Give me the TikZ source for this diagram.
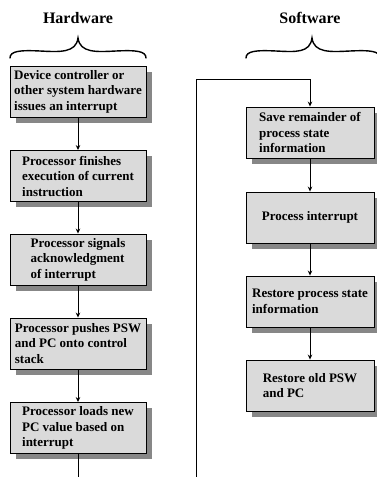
\documentclass[tikz,border=0pt]{standalone}
\usepackage{fontspec}
\setmainfont{Liberation Serif}
\usetikzlibrary{arrows.meta,shadows}

\definecolor{boxfill}{RGB}{218,218,218}
\definecolor{shadowgray}{RGB}{135,135,135}

\tikzset{
  stepbox/.style={draw=black, line width=0.9pt, fill=boxfill,
    minimum height=51pt, align=left, inner sep=3pt,
    font=\bfseries\fontsize{13}{15.5}\selectfont,
    drop shadow={shadow xshift=5.5pt, shadow yshift=-5.5pt,
                 fill=shadowgray, opacity=1}},
  hwbox/.style={stepbox, minimum width=136pt},
  swbox/.style={stepbox, minimum width=128pt},
  heading/.style={font=\bfseries\fontsize{16}{18}\selectfont},
  flow/.style={line width=0.9pt, -{Stealth[length=5pt,width=4.5pt]}},
  wire/.style={line width=0.9pt},
  bracepath/.style={line width=1.4pt, line cap=round}
}

\begin{document}
\begin{tikzpicture}[x=1pt, y=-1pt]
\useasboundingbox (0,0) rectangle (376,477);

% column headings
\node[heading] (hwtitle) at (78,18) {Hardware};
\node[heading] (swtitle) at (310,18) {Software};

% braces under the headings
\draw[bracepath] (10,58) .. controls (10,51) and (20,50) .. (40,51)
  .. controls (60,52) and (76,53) .. (78,38)
  .. controls (80,53) and (96,52) .. (116,51)
  .. controls (136,50) and (146,51) .. (146,58);
\draw[bracepath] (246,58) .. controls (246,51) and (256,50) .. (276,51)
  .. controls (296,52) and (310,53) .. (312,38)
  .. controls (314,53) and (330,52) .. (350,51)
  .. controls (370,50) and (380,51) .. (380,58);

% hardware steps
\node[hwbox] (h1) at (78,91.5)  {Device controller or\\other system hardware\\issues an interrupt};
\node[hwbox] (h2) at (78,176)   {Processor finishes\\execution of current\\instruction};
\node[hwbox] (h3) at (78,259.5) {Processor signals\\acknowledgment\\of interrupt};
\node[hwbox] (h4) at (78,343.5) {Processor pushes PSW\\and PC onto control\\stack};
\node[hwbox] (h5) at (78,428)   {Processor loads new\\PC value based on\\interrupt};

% software steps
\node[swbox] (s1) at (310,132.5) {Save remainder of\\process state\\information};
\node[swbox] (s2) at (310,217.5) {Process interrupt};
\node[swbox] (s3) at (310,301.5) {Restore process state\\information};
\node[swbox] (s4) at (310,385.5) {Restore old PSW\\and PC};

% hardware flow
\draw[flow] (h1) -- (h2);
\draw[flow] (h2) -- (h3);
\draw[flow] (h3) -- (h4);
\draw[flow] (h4) -- (h5);
\coordinate (hout) at (78,480);
\draw[wire] (h5) -- (hout);

% hand-over into the software column
\coordinate (swin) at (196,480);
\coordinate (swtop) at (196,79);
\draw[flow] (swin) -- (swtop) -| (s1.north);

% software flow
\draw[flow] (s1) -- (s2);
\draw[flow] (s2) -- (s3);
\draw[flow] (s3) -- (s4);
\end{tikzpicture}
\end{document}
